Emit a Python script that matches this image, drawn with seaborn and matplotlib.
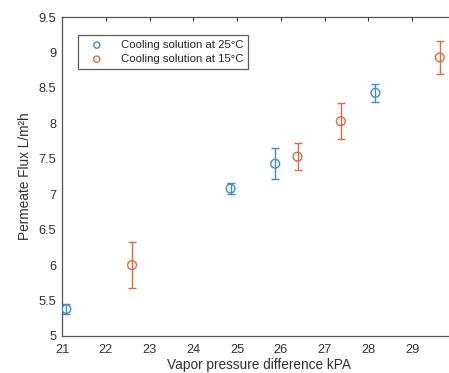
import matplotlib
matplotlib.use("Agg")
import matplotlib.pyplot as plt
import seaborn as sns
import pandas as pd

series_names = ["Cooling solution at 25°C", "Cooling solution at 15°C"]
x25 = [21.1, 24.85, 25.87, 28.16]
y25 = [5.38, 7.08, 7.43, 8.43]
e25 = [0.07, 0.08, 0.22, 0.13]
x15 = [22.6, 26.38, 27.37, 29.63]
y15 = [6.00, 7.53, 8.03, 8.93]
e15 = [0.32, 0.19, 0.25, 0.23]
xticks = [21, 22, 23, 24, 25, 26, 27, 28, 29]
yticks = [5, 5.5, 6, 6.5, 7, 7.5, 8, 8.5, 9, 9.5]
ytick_labels = ["5", "5.5", "6", "6.5", "7", "7.5", "8", "8.5", "9", "9.5"]

sns.set_style("white")
plt.rcParams['font.family'] = ['Liberation Sans', 'DejaVu Sans']

colors = ["#3f8fc6", "#da6d40"]

fig = plt.figure(figsize=(4.49, 3.73), dpi=100)
ax = fig.add_axes([62/449, 37/373, 394/449, 319/373])

data = [(x25, y25, e25), (x15, y15, e15)]
for (xs, ys, es), name, c in zip(data, series_names, colors):
    df = pd.DataFrame({"x": xs, "y": ys})
    ax.errorbar(xs, ys, yerr=es, fmt='none', ecolor=c, elinewidth=1.0,
                capsize=2.6, capthick=1.0, zorder=2)
    sns.scatterplot(data=df, x="x", y="y", ax=ax, marker='o', s=40,
                    facecolors='none', edgecolor=c, linewidth=1.0,
                    label=name, zorder=3)

ax.set_xlim(21, 30)
ax.set_ylim(5, 9.5)
ax.set_xticks(xticks)
ax.set_yticks(yticks)
ax.set_yticklabels(ytick_labels)
ax.tick_params(direction='in', top=True, right=True, length=3,
               labelsize=9.2, colors='#303030', width=0.8)
ax.tick_params(axis='x', pad=6)
ax.tick_params(axis='y', pad=4)
for sp in ax.spines.values():
    sp.set_color('#555555')
    sp.set_linewidth(0.9)
ax.set_xlabel("Vapor pressure difference kPA", fontsize=9.8, color='#303030', labelpad=1)
ax.set_ylabel("Permeate Flux L/m²h", fontsize=9.8, color='#303030', labelpad=5)

leg = ax.legend(loc='upper left', bbox_to_anchor=(16/394, 301/319), fontsize=8.2,
                frameon=True, fancybox=False, edgecolor='#333333',
                handletextpad=0.9, borderpad=0.45, labelspacing=0.35,
                handlelength=2.4, markerscale=0.7, borderaxespad=0)
leg.get_frame().set_linewidth(0.9)

fig.savefig("out.png", dpi=100)
